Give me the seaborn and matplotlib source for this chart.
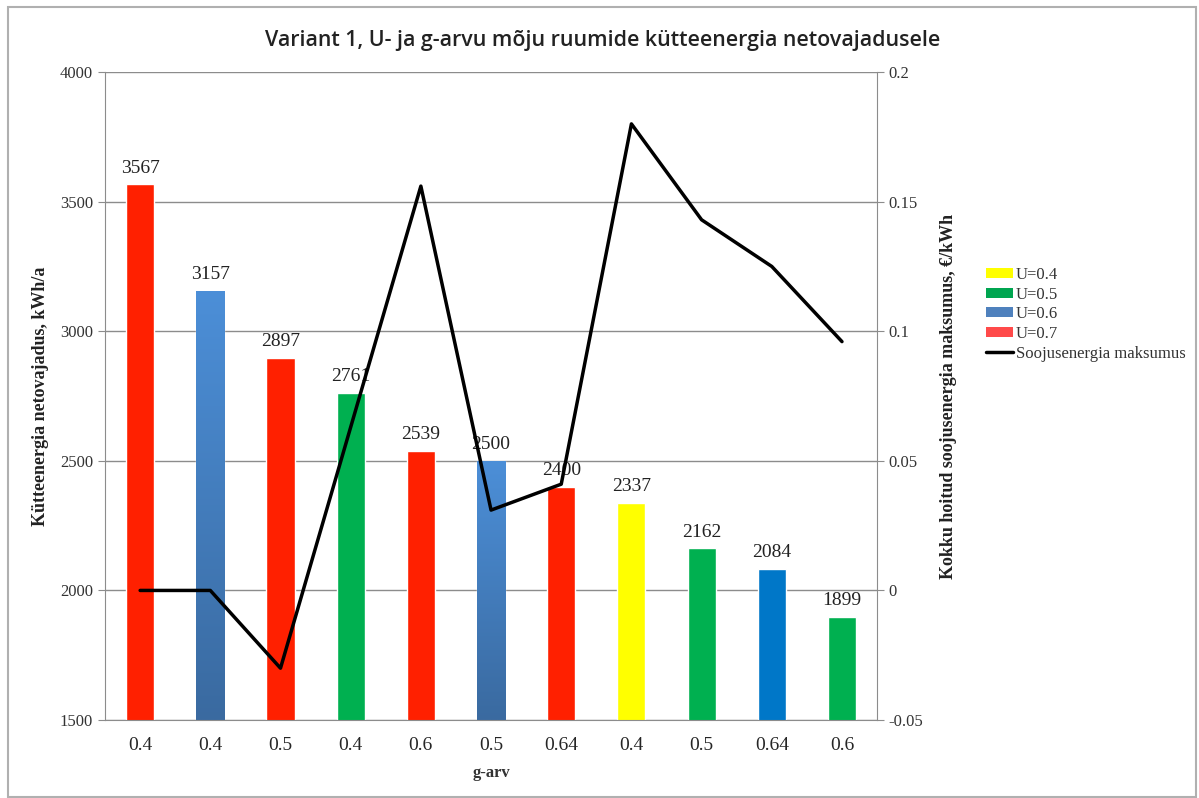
import numpy as np
import pandas as pd
import matplotlib.pyplot as plt
import seaborn as sns
from matplotlib.patches import Rectangle, Patch
from matplotlib.lines import Line2D

# data
g_labels = ['0.4', '0.4', '0.5', '0.4', '0.6', '0.5', '0.64', '0.4', '0.5', '0.64', '0.6']
u_values = ['0.7', '0.6', '0.7', '0.5', '0.7', '0.6', '0.7', '0.4', '0.5', '0.6', '0.5']
energy = [3567, 3157, 2897, 2761, 2539, 2500, 2400, 2337, 2162, 2084, 1899]
cost = [0.0, 0.0, -0.03, 0.063, 0.156, 0.031, 0.041, 0.18, 0.143, 0.125, 0.096]

bar_colors = ['#FF2000', '#4682C8', '#FF2000', '#00B050', '#FF2000', '#4682C8',
              '#FF2000', '#FFFF00', '#00B050', '#0077C8', '#00B050']
legend_colors = {'U=0.4': '#FFFF00', 'U=0.5': '#00A550', 'U=0.6': '#4F81BD', 'U=0.7': '#FF4A4A'}

sns.set_style('white')
plt.rcParams['font.family'] = ['Liberation Serif', 'DejaVu Serif']

df = pd.DataFrame({'pos': [str(i) for i in range(len(energy))], 'energy': energy})

fig = plt.figure(figsize=(11.99, 7.98), dpi=100)
ax = fig.add_axes([0.0876, 0.0977, 0.6439, 0.812])

sns.barplot(data=df, x='pos', y='energy', hue='pos', palette=bar_colors,
            width=0.4, legend=False, ax=ax, saturation=1)
ax.set_ylim(1500, 4000)
ax.set_xlim(-0.5, len(energy) - 0.5)
ax.set_yticks(range(1500, 4001, 500))
ax.yaxis.grid(True, color='#8c8c8c', lw=1)
ax.set_axisbelow(True)
ax.set_xticks(range(len(g_labels)))
ax.set_xticklabels(g_labels, fontsize=14)
ax.set_xticks(np.arange(-0.5, len(energy), 1), minor=True)
ax.tick_params(axis='x', which='major', length=0, pad=12)
ax.tick_params(axis='x', which='minor', length=5, color='#8c8c8c', direction='out')
ax.tick_params(axis='y', labelsize=12, length=5, color='#8c8c8c', left=True, labelcolor='#333333')
for s in ['top', 'right']:
    ax.spines[s].set_visible(False)
for s in ['left', 'bottom']:
    ax.spines[s].set_color('#8c8c8c')

# the U=0.6 bars (except one) have a vertical gradient
for patch, c in zip(ax.patches, bar_colors):
    if c == '#4682C8':
        x0, w = patch.get_x(), patch.get_width()
        grad = np.linspace(0, 1, 256).reshape(-1, 1)
        cmap = sns.blend_palette(['#3A6AA0', '#4C8FD8'], as_cmap=True)
        im = ax.imshow(grad, cmap=cmap, aspect='auto', origin='lower',
                       extent=[x0, x0 + w, 1500, patch.get_height()], zorder=patch.get_zorder())
        im.set_clip_path(patch)
        patch.set_facecolor('none')

for i, v in enumerate(energy):
    ax.text(i, v + 30, str(v), ha='center', va='bottom', fontsize=14, color='#222222')

ax.set_xlabel('g-arv', fontsize=12, fontweight='bold', color='#333333', labelpad=8)
ax.set_ylabel('Kütteenergia netovajadus, kWh/a', fontsize=13, fontweight='bold', color='#222222', labelpad=8)

ax2 = ax.twinx()
sns.lineplot(x=list(range(len(cost))), y=cost, ax=ax2, color='black', lw=2.5)
ax2.set_ylim(-0.05, 0.2)
ax2.set_yticks([-0.05, 0, 0.05, 0.1, 0.15, 0.2])
ax2.set_yticklabels(['-0.05', '0', '0.05', '0.1', '0.15', '0.2'])
ax2.tick_params(axis='y', labelsize=12, length=5, color='#8c8c8c', right=True, labelcolor='#333333')
for s in ['top', 'left', 'bottom']:
    ax2.spines[s].set_visible(False)
ax2.spines['right'].set_color('#8c8c8c')
ax2.set_ylabel('Kokku hoitud soojusenergia maksumus, €/kWh', fontsize=13, fontweight='bold',
               color='#222222', labelpad=12)

handles = [Patch(facecolor=c, edgecolor='none', label=k) for k, c in legend_colors.items()]
handles.append(Line2D([0], [0], color='black', lw=2.5, label='Soojusenergia maksumus'))
fig.legend(handles=handles, loc='upper left', bbox_to_anchor=(0.8125, 0.68), frameon=False,
           fontsize=12, handlelength=1.65, handleheight=0.55, handletextpad=0.15, labelspacing=0.22,
           labelcolor='#333333', borderpad=0.2)

fig.text(0.503, 0.949, 'Variant 1, U- ja g-arvu mõju ruumide kütteenergia netovajadusele',
         ha='center', va='center', fontsize=15.4, fontweight='semibold',
         family=['Open Sans', 'DejaVu Sans'], color='#222222')

fig.add_artist(Rectangle((8 / 1199, 1 / 798), 1188 / 1199, 790 / 798, transform=fig.transFigure,
                         fill=False, edgecolor='#b0b0b0', lw=1.5))

fig.savefig('out.png', dpi=100)
